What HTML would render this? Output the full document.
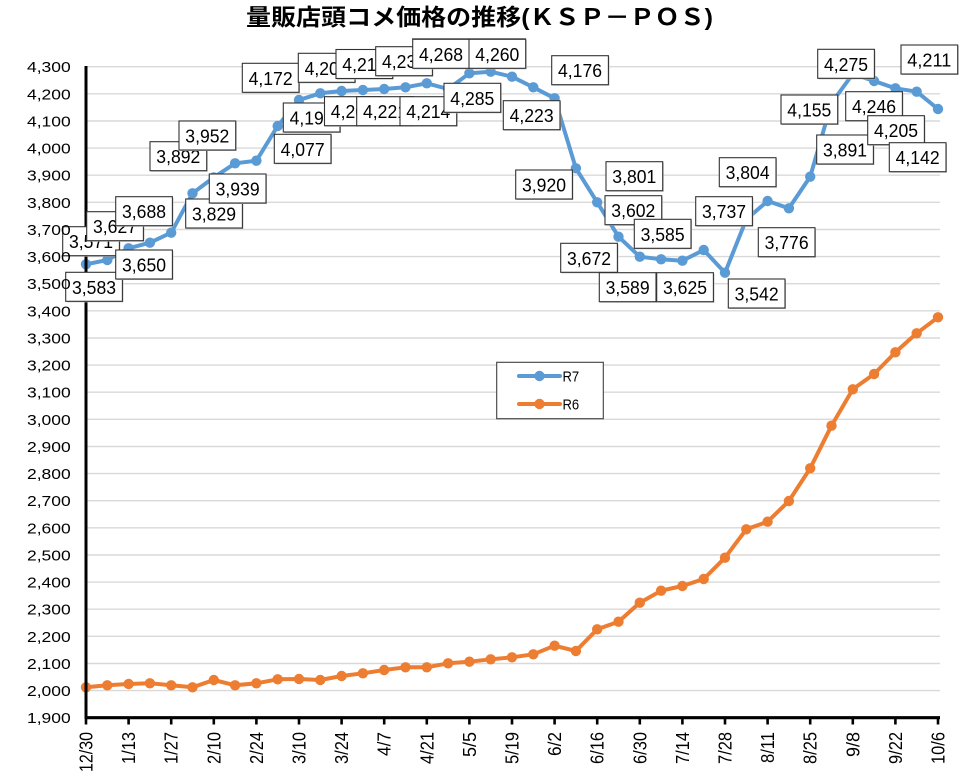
<!DOCTYPE html>
<html><head><meta charset="utf-8"><style>
html,body{margin:0;padding:0;background:#fff;}
svg{display:block;}
.ax{font-family:"Liberation Sans","Noto Sans CJK JP",sans-serif;font-size:15px;fill:#000;}
.xl{font-family:"Liberation Sans","Noto Sans CJK JP",sans-serif;font-size:18px;fill:#000;}
.bl{font-family:"Liberation Sans","Noto Sans CJK JP",sans-serif;font-size:18px;fill:#000;}
</style></head><body>
<svg width="964" height="781" viewBox="0 0 964 781" xmlns="http://www.w3.org/2000/svg">
<defs>
<marker id="mb" viewBox="-6 -6 12 12" markerWidth="12" markerHeight="12" markerUnits="userSpaceOnUse" refX="0" refY="0"><circle r="5.2" fill="#5B9BD5"/></marker>
<marker id="mo" viewBox="-6 -6 12 12" markerWidth="12" markerHeight="12" markerUnits="userSpaceOnUse" refX="0" refY="0"><circle r="5.2" fill="#ED7D31"/></marker>
<g id="bx"><rect x="1" y="1" width="56.7" height="29" fill="#bbb"/><rect x="0" y="0" width="56.7" height="29" fill="#fff" stroke="#333" stroke-width="1.1"/></g>
</defs>
<rect width="964" height="781" fill="#fff"/>
<text x="246" y="25" font-family="'Liberation Sans','Noto Sans CJK JP',sans-serif" font-size="23" font-weight="bold" textLength="467" lengthAdjust="spacingAndGlyphs">量販店頭コメ価格の推移(ＫＳＰ－ＰＯＳ)</text>
<line x1="412" y1="38.8" x2="526" y2="38.8" stroke="#555" stroke-width="1"/>
<g stroke="#D9D9D9" stroke-width="1.4">
<line x1="86" x2="940" y1="66.7" y2="66.7"/><line x1="86" x2="940" y1="93.8" y2="93.8"/><line x1="86" x2="940" y1="121" y2="121"/><line x1="86" x2="940" y1="148.1" y2="148.1"/><line x1="86" x2="940" y1="175.2" y2="175.2"/><line x1="86" x2="940" y1="202.3" y2="202.3"/><line x1="86" x2="940" y1="229.5" y2="229.5"/><line x1="86" x2="940" y1="256.6" y2="256.6"/><line x1="86" x2="940" y1="283.7" y2="283.7"/><line x1="86" x2="940" y1="310.8" y2="310.8"/><line x1="86" x2="940" y1="338" y2="338"/><line x1="86" x2="940" y1="365.1" y2="365.1"/><line x1="86" x2="940" y1="392.2" y2="392.2"/><line x1="86" x2="940" y1="419.3" y2="419.3"/><line x1="86" x2="940" y1="446.5" y2="446.5"/><line x1="86" x2="940" y1="473.6" y2="473.6"/><line x1="86" x2="940" y1="500.7" y2="500.7"/><line x1="86" x2="940" y1="527.8" y2="527.8"/><line x1="86" x2="940" y1="555" y2="555"/><line x1="86" x2="940" y1="582.1" y2="582.1"/><line x1="86" x2="940" y1="609.2" y2="609.2"/><line x1="86" x2="940" y1="636.3" y2="636.3"/><line x1="86" x2="940" y1="663.5" y2="663.5"/><line x1="86" x2="940" y1="690.6" y2="690.6"/>
</g>
<polyline fill="none" stroke="#ED7D31" stroke-width="4" stroke-linejoin="round" marker-start="url(#mo)" marker-mid="url(#mo)" marker-end="url(#mo)" points="86,687.3 107.3,685.3 128.6,684 149.9,683.3 171.2,685.3 192.5,687.3 213.8,680 235.1,685.3 256.4,683.3 277.7,679.3 299,679 320.3,680 341.6,676 362.9,673.3 384.2,670 405.5,667.3 426.8,667.3 448.1,663.3 469.4,661.7 490.7,659.3 512,657.3 533.3,654.3 554.6,645.7 575.9,651 597.2,629.3 618.5,621.7 639.8,602.7 661.1,590.7 682.4,586 703.7,579 725,557.7 746.3,529.3 767.6,521.7 788.9,501 810.2,468.3 831.5,425.7 852.8,389.3 874.1,374 895.4,352.3 916.7,333.3 938,317.3"/>
<polyline fill="none" stroke="#5B9BD5" stroke-width="4" stroke-linejoin="round" marker-start="url(#mb)" marker-mid="url(#mb)" marker-end="url(#mb)" points="86,264.3 107.3,260 128.6,248.3 149.9,242.7 171.2,232.7 192.5,193.3 213.8,177.4 235.1,163.3 256.4,160.7 277.7,126 299,100 320.3,93.3 341.6,91 362.9,90 384.2,89 405.5,87.3 426.8,83.3 448.1,89 469.4,73.3 490.7,71.7 512,76.7 533.3,87.3 554.6,98.3 575.9,168.3 597.2,202.3 618.5,236.7 639.8,256.7 661.1,259.3 682.4,260.7 703.7,250 725,272.7 746.3,219.4 767.6,201 788.9,208.3 810.2,176.7 831.5,103 852.8,74 874.1,81 895.4,88.3 916.7,91.7 938,109"/>
<line x1="86" y1="66" x2="86" y2="719" stroke="#000" stroke-width="3"/>
<line x1="85" y1="717.7" x2="940" y2="717.7" stroke="#000" stroke-width="3.2"/>
<g stroke="#000" stroke-width="2.6">
<line x1="86" x2="86" y1="717" y2="724.5"/><line x1="128.6" x2="128.6" y1="717" y2="724.5"/><line x1="171.2" x2="171.2" y1="717" y2="724.5"/><line x1="213.8" x2="213.8" y1="717" y2="724.5"/><line x1="256.4" x2="256.4" y1="717" y2="724.5"/><line x1="299" x2="299" y1="717" y2="724.5"/><line x1="341.6" x2="341.6" y1="717" y2="724.5"/><line x1="384.2" x2="384.2" y1="717" y2="724.5"/><line x1="426.8" x2="426.8" y1="717" y2="724.5"/><line x1="469.4" x2="469.4" y1="717" y2="724.5"/><line x1="512" x2="512" y1="717" y2="724.5"/><line x1="554.6" x2="554.6" y1="717" y2="724.5"/><line x1="597.2" x2="597.2" y1="717" y2="724.5"/><line x1="639.8" x2="639.8" y1="717" y2="724.5"/><line x1="682.4" x2="682.4" y1="717" y2="724.5"/><line x1="725" x2="725" y1="717" y2="724.5"/><line x1="767.6" x2="767.6" y1="717" y2="724.5"/><line x1="810.2" x2="810.2" y1="717" y2="724.5"/><line x1="852.8" x2="852.8" y1="717" y2="724.5"/><line x1="895.4" x2="895.4" y1="717" y2="724.5"/><line x1="938" x2="938" y1="717" y2="724.5"/>
</g>
<g class="xl" text-anchor="end">
<text transform="translate(86,732) rotate(-90)" y="6.5" textLength="40" lengthAdjust="spacingAndGlyphs">12/30</text>
<text transform="translate(128.6,732) rotate(-90)" y="6.5" textLength="32" lengthAdjust="spacingAndGlyphs">1/13</text>
<text transform="translate(171.2,732) rotate(-90)" y="6.5" textLength="32" lengthAdjust="spacingAndGlyphs">1/27</text>
<text transform="translate(213.8,732) rotate(-90)" y="6.5" textLength="32" lengthAdjust="spacingAndGlyphs">2/10</text>
<text transform="translate(256.4,732) rotate(-90)" y="6.5" textLength="32" lengthAdjust="spacingAndGlyphs">2/24</text>
<text transform="translate(299,732) rotate(-90)" y="6.5" textLength="32" lengthAdjust="spacingAndGlyphs">3/10</text>
<text transform="translate(341.6,732) rotate(-90)" y="6.5" textLength="32" lengthAdjust="spacingAndGlyphs">3/24</text>
<text transform="translate(384.2,732) rotate(-90)" y="6.5" textLength="24" lengthAdjust="spacingAndGlyphs">4/7</text>
<text transform="translate(426.8,732) rotate(-90)" y="6.5" textLength="32" lengthAdjust="spacingAndGlyphs">4/21</text>
<text transform="translate(469.4,732) rotate(-90)" y="6.5" textLength="25" lengthAdjust="spacingAndGlyphs">5/5</text>
<text transform="translate(512,732) rotate(-90)" y="6.5" textLength="32" lengthAdjust="spacingAndGlyphs">5/19</text>
<text transform="translate(554.6,732) rotate(-90)" y="6.5" textLength="24" lengthAdjust="spacingAndGlyphs">6/2</text>
<text transform="translate(597.2,732) rotate(-90)" y="6.5" textLength="32" lengthAdjust="spacingAndGlyphs">6/16</text>
<text transform="translate(639.8,732) rotate(-90)" y="6.5" textLength="32" lengthAdjust="spacingAndGlyphs">6/30</text>
<text transform="translate(682.4,732) rotate(-90)" y="6.5" textLength="32" lengthAdjust="spacingAndGlyphs">7/14</text>
<text transform="translate(725,732) rotate(-90)" y="6.5" textLength="32" lengthAdjust="spacingAndGlyphs">7/28</text>
<text transform="translate(767.6,732) rotate(-90)" y="6.5" textLength="31" lengthAdjust="spacingAndGlyphs">8/11</text>
<text transform="translate(810.2,732) rotate(-90)" y="6.5" textLength="32" lengthAdjust="spacingAndGlyphs">8/25</text>
<text transform="translate(852.8,732) rotate(-90)" y="6.5" textLength="25" lengthAdjust="spacingAndGlyphs">9/8</text>
<text transform="translate(895.4,732) rotate(-90)" y="6.5" textLength="32" lengthAdjust="spacingAndGlyphs">9/22</text>
<text transform="translate(938,732) rotate(-90)" y="6.5" textLength="32" lengthAdjust="spacingAndGlyphs">10/6</text>
</g>
<g class="bl" text-anchor="middle">
<use href="#bx" x="62.7" y="226.7"/><text x="91" y="248.2" textLength="44" lengthAdjust="spacingAndGlyphs">3,571</text>
<use href="#bx" x="65.7" y="272.3"/><text x="94" y="293.8" textLength="44" lengthAdjust="spacingAndGlyphs">3,583</text>
<use href="#bx" x="86.7" y="211.7"/><text x="115" y="233.2" textLength="44" lengthAdjust="spacingAndGlyphs">3,627</text>
<use href="#bx" x="115.7" y="250"/><text x="144" y="271.5" textLength="44" lengthAdjust="spacingAndGlyphs">3,650</text>
<use href="#bx" x="115.7" y="196.7"/><text x="144" y="218.2" textLength="44" lengthAdjust="spacingAndGlyphs">3,688</text>
<use href="#bx" x="185.7" y="199"/><text x="214" y="220.5" textLength="44" lengthAdjust="spacingAndGlyphs">3,829</text>
<use href="#bx" x="150" y="141.7"/><text x="178.3" y="163.2" textLength="44" lengthAdjust="spacingAndGlyphs">3,892</text>
<use href="#bx" x="209.3" y="174"/><text x="237.6" y="195.5" textLength="44" lengthAdjust="spacingAndGlyphs">3,939</text>
<use href="#bx" x="179" y="121"/><text x="207.3" y="142.5" textLength="44" lengthAdjust="spacingAndGlyphs">3,952</text>
<use href="#bx" x="274.3" y="134.3"/><text x="302.6" y="155.8" textLength="44" lengthAdjust="spacingAndGlyphs">4,077</text>
<use href="#bx" x="242.3" y="63.3"/><text x="270.6" y="84.8" textLength="44" lengthAdjust="spacingAndGlyphs">4,172</text>
<use href="#bx" x="283.3" y="103"/><text x="311.6" y="124.5" textLength="44" lengthAdjust="spacingAndGlyphs">4,199</text>
<use href="#bx" x="298.3" y="53.3"/><text x="326.6" y="74.8" textLength="44" lengthAdjust="spacingAndGlyphs">4,206</text>
<use href="#bx" x="324.5" y="96.7"/><text x="352.8" y="118.2" textLength="44" lengthAdjust="spacingAndGlyphs">4,209</text>
<use href="#bx" x="336" y="49.5"/><text x="364.3" y="71" textLength="44" lengthAdjust="spacingAndGlyphs">4,215</text>
<use href="#bx" x="356.7" y="96.7"/><text x="385" y="118.2" textLength="44" lengthAdjust="spacingAndGlyphs">4,221</text>
<use href="#bx" x="375.7" y="46.7"/><text x="404" y="68.2" textLength="44" lengthAdjust="spacingAndGlyphs">4,233</text>
<use href="#bx" x="400" y="96.7"/><text x="428.3" y="118.2" textLength="44" lengthAdjust="spacingAndGlyphs">4,214</text>
<use href="#bx" x="412.7" y="39.3"/><text x="441" y="60.8" textLength="44" lengthAdjust="spacingAndGlyphs">4,268</text>
<use href="#bx" x="444" y="83.3"/><text x="472.3" y="104.8" textLength="44" lengthAdjust="spacingAndGlyphs">4,285</text>
<use href="#bx" x="469" y="39.3"/><text x="497.3" y="60.8" textLength="44" lengthAdjust="spacingAndGlyphs">4,260</text>
<use href="#bx" x="503.3" y="100.7"/><text x="531.6" y="122.2" textLength="44" lengthAdjust="spacingAndGlyphs">4,223</text>
<use href="#bx" x="551.7" y="55.7"/><text x="580" y="77.2" textLength="44" lengthAdjust="spacingAndGlyphs">4,176</text>
<use href="#bx" x="515.7" y="170"/><text x="544" y="191.5" textLength="44" lengthAdjust="spacingAndGlyphs">3,920</text>
<use href="#bx" x="606" y="161.7"/><text x="634.3" y="183.2" textLength="44" lengthAdjust="spacingAndGlyphs">3,801</text>
<use href="#bx" x="560.7" y="243.3"/><text x="589" y="264.8" textLength="44" lengthAdjust="spacingAndGlyphs">3,672</text>
<use href="#bx" x="605" y="195.7"/><text x="633.3" y="217.2" textLength="44" lengthAdjust="spacingAndGlyphs">3,602</text>
<use href="#bx" x="599.3" y="272.7"/><text x="627.6" y="294.2" textLength="44" lengthAdjust="spacingAndGlyphs">3,589</text>
<use href="#bx" x="634.3" y="219.3"/><text x="662.6" y="240.8" textLength="44" lengthAdjust="spacingAndGlyphs">3,585</text>
<use href="#bx" x="656.7" y="272.7"/><text x="685" y="294.2" textLength="44" lengthAdjust="spacingAndGlyphs">3,625</text>
<use href="#bx" x="728.3" y="279"/><text x="756.6" y="300.5" textLength="44" lengthAdjust="spacingAndGlyphs">3,542</text>
<use href="#bx" x="695.7" y="196.7"/><text x="724" y="218.2" textLength="44" lengthAdjust="spacingAndGlyphs">3,737</text>
<use href="#bx" x="719.3" y="157.7"/><text x="747.6" y="179.2" textLength="44" lengthAdjust="spacingAndGlyphs">3,804</text>
<use href="#bx" x="758.3" y="227.7"/><text x="786.6" y="249.2" textLength="44" lengthAdjust="spacingAndGlyphs">3,776</text>
<use href="#bx" x="816.7" y="135"/><text x="845" y="156.5" textLength="44" lengthAdjust="spacingAndGlyphs">3,891</text>
<use href="#bx" x="781" y="95"/><text x="809.3" y="116.5" textLength="44" lengthAdjust="spacingAndGlyphs">4,155</text>
<use href="#bx" x="817.7" y="49.3"/><text x="846" y="70.8" textLength="44" lengthAdjust="spacingAndGlyphs">4,275</text>
<use href="#bx" x="845.7" y="91.7"/><text x="874" y="113.2" textLength="44" lengthAdjust="spacingAndGlyphs">4,246</text>
<use href="#bx" x="901" y="45"/><text x="929.3" y="66.5" textLength="44" lengthAdjust="spacingAndGlyphs">4,211</text>
<use href="#bx" x="867.7" y="115.7"/><text x="896" y="137.2" textLength="44" lengthAdjust="spacingAndGlyphs">4,205</text>
<use href="#bx" x="889.3" y="142.7"/><text x="917.6" y="164.2" textLength="44" lengthAdjust="spacingAndGlyphs">4,142</text>
</g>
<g class="ax" text-anchor="end">
<text x="70.7" y="72.2" textLength="43.7" lengthAdjust="spacingAndGlyphs">4,300</text>
<text x="70.7" y="99.3" textLength="43.7" lengthAdjust="spacingAndGlyphs">4,200</text>
<text x="70.7" y="126.5" textLength="43.7" lengthAdjust="spacingAndGlyphs">4,100</text>
<text x="70.7" y="153.6" textLength="43.7" lengthAdjust="spacingAndGlyphs">4,000</text>
<text x="70.7" y="180.7" textLength="43.7" lengthAdjust="spacingAndGlyphs">3,900</text>
<text x="70.7" y="207.8" textLength="43.7" lengthAdjust="spacingAndGlyphs">3,800</text>
<text x="70.7" y="235" textLength="43.7" lengthAdjust="spacingAndGlyphs">3,700</text>
<text x="70.7" y="262.1" textLength="43.7" lengthAdjust="spacingAndGlyphs">3,600</text>
<text x="70.7" y="289.2" textLength="43.7" lengthAdjust="spacingAndGlyphs">3,500</text>
<text x="70.7" y="316.3" textLength="43.7" lengthAdjust="spacingAndGlyphs">3,400</text>
<text x="70.7" y="343.5" textLength="43.7" lengthAdjust="spacingAndGlyphs">3,300</text>
<text x="70.7" y="370.6" textLength="43.7" lengthAdjust="spacingAndGlyphs">3,200</text>
<text x="70.7" y="397.7" textLength="43.7" lengthAdjust="spacingAndGlyphs">3,100</text>
<text x="70.7" y="424.8" textLength="43.7" lengthAdjust="spacingAndGlyphs">3,000</text>
<text x="70.7" y="452" textLength="43.7" lengthAdjust="spacingAndGlyphs">2,900</text>
<text x="70.7" y="479.1" textLength="43.7" lengthAdjust="spacingAndGlyphs">2,800</text>
<text x="70.7" y="506.2" textLength="43.7" lengthAdjust="spacingAndGlyphs">2,700</text>
<text x="70.7" y="533.3" textLength="43.7" lengthAdjust="spacingAndGlyphs">2,600</text>
<text x="70.7" y="560.5" textLength="43.7" lengthAdjust="spacingAndGlyphs">2,500</text>
<text x="70.7" y="587.6" textLength="43.7" lengthAdjust="spacingAndGlyphs">2,400</text>
<text x="70.7" y="614.7" textLength="43.7" lengthAdjust="spacingAndGlyphs">2,300</text>
<text x="70.7" y="641.8" textLength="43.7" lengthAdjust="spacingAndGlyphs">2,200</text>
<text x="70.7" y="669" textLength="43.7" lengthAdjust="spacingAndGlyphs">2,100</text>
<text x="70.7" y="696.1" textLength="43.7" lengthAdjust="spacingAndGlyphs">2,000</text>
<text x="70.7" y="723.2" textLength="43.7" lengthAdjust="spacingAndGlyphs">1,900</text>
</g>
<rect x="496.7" y="362.3" width="106.6" height="56.4" fill="#fff" stroke="#404040" stroke-width="1.1"/>
<line x1="519" y1="376" x2="560" y2="376" stroke="#5B9BD5" stroke-width="4" stroke-linecap="round"/>
<circle cx="539.5" cy="376" r="5.2" fill="#5B9BD5"/>
<line x1="519" y1="404" x2="560" y2="404" stroke="#ED7D31" stroke-width="4" stroke-linecap="round"/>
<circle cx="539.5" cy="404" r="5.2" fill="#ED7D31"/>
<text x="562.5" y="381.7" font-family="'Liberation Sans',sans-serif" font-size="15" textLength="16.7" lengthAdjust="spacingAndGlyphs">R7</text>
<text x="562.5" y="409.3" font-family="'Liberation Sans',sans-serif" font-size="15" textLength="16.7" lengthAdjust="spacingAndGlyphs">R6</text>
</svg>
</body></html>
